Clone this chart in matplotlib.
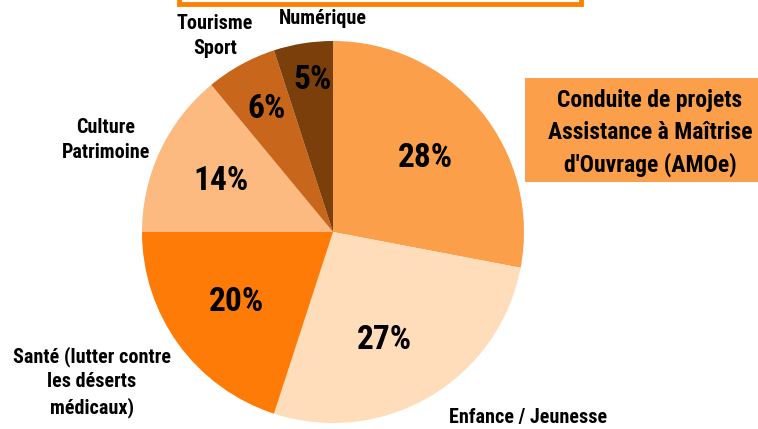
import matplotlib
matplotlib.use("Agg")
import matplotlib.pyplot as plt
from matplotlib import font_manager as fm
from matplotlib.patches import Rectangle

# ---- data ----
categories = ["Conduite de projets\nAssistance à Maîtrise\nd'Ouvrage (AMOe)",
              "Enfance / Jeunesse",
              "Santé (lutter contre\nles déserts\nmédicaux)",
              "Culture\nPatrimoine",
              "Tourisme\nSport",
              "Numérique"]
values = [28, 27, 20, 14, 6, 5]
pct_labels = ["28%", "27%", "20%", "14%", "6%", "5%"]
colors = ["#FB9F4B", "#FFDDBB", "#FF7B08", "#FDBA80", "#C8661B", "#7B3F0B"]

names = {f.name for f in fm.fontManager.ttflist}
fam = None
for cand in ["Roboto Condensed", "Liberation Sans Narrow", "Roboto", "Liberation Sans"]:
    if cand in names:
        fam = cand
        break
family = [fam, "DejaVu Sans"] if fam else ["DejaVu Sans"]

W, H = 758, 429
fig = plt.figure(figsize=(W / 100, H / 100), dpi=100)
ax = fig.add_axes([0, 0, 1, 1])

def py(y):
    return H - y

cx, cy, r = 333, 232, 191
wedges, _ = ax.pie(values, colors=colors, startangle=90, counterclock=False,
                   center=(cx, py(cy)), radius=r,
                   wedgeprops=dict(linewidth=0))
ax.set_xlim(0, W)
ax.set_ylim(0, H)
ax.set_aspect("equal")
ax.axis("off")

pct_pos = [(425, 158), (384, 340), (237, 302), (221, 181), (267, 109), (313, 80)]
for lab, (x, y) in zip(pct_labels, pct_pos):
    ax.text(x, py(y), lab, ha="center", va="center", fontsize=24,
            fontweight="bold", family=family, color="black")

# top orange frame (partially cropped)
ax.add_patch(Rectangle((179, py(4)), 402, 40, facecolor="white",
                       edgecolor="#FF8000", linewidth=3.5, clip_on=True))

# legend box for the first category
ax.add_patch(Rectangle((525, py(182)), 240, 104, facecolor="#FB9F4B",
                       edgecolor="none"))
ax.text(650, py(133), categories[0], ha="center", va="center", fontsize=17,
        fontweight="bold", family=family, linespacing=1.45)

label_pos = [None, (528, 418), (92, 382), (106, 140), (215, 36), (323, 19)]
for lab, pos in zip(categories, label_pos):
    if pos is None:
        continue
    x, y = pos
    ax.text(x, py(y), lab, ha="center", va="center", fontsize=14.5,
            fontweight="bold", family=family, linespacing=1.35)

fig.savefig("out.png", dpi=100)
